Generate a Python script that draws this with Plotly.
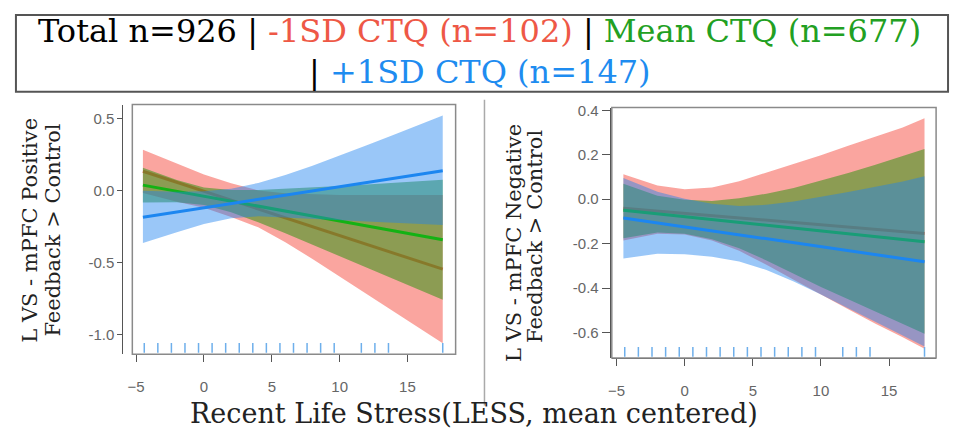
import plotly.graph_objects as go

# ---------------- data ----------------
stress = [-4.5, -2, 0, 2, 4, 6, 8, 10, 12, 14, 16, 17.6]

# Panel 1: L VS - mPFC Positive Feedback > Control
pos_low_fit = [0.133, 0.056, -0.005, -0.067, -0.128, -0.190, -0.252, -0.313, -0.375, -0.437, -0.498, -0.547]
pos_low_lo = [-0.017, -0.078, -0.120, -0.184, -0.256, -0.360, -0.476, -0.595, -0.718, -0.842, -0.964, -1.062]
pos_low_hi = [0.283, 0.190, 0.110, 0.050, 0.000, -0.020, -0.028, -0.031, -0.032, -0.032, -0.032, -0.032]

pos_mean_fit = [0.037, -0.005, -0.040, -0.074, -0.109, -0.143, -0.178, -0.212, -0.247, -0.281, -0.316, -0.343]
pos_mean_lo = [-0.083, -0.082, -0.101, -0.151, -0.221, -0.297, -0.375, -0.455, -0.535, -0.615, -0.696, -0.760]
pos_mean_hi = [0.157, 0.072, 0.021, 0.003, 0.003, 0.011, 0.019, 0.031, 0.041, 0.053, 0.064, 0.074]

pos_high_fit = [-0.186, -0.150, -0.120, -0.091, -0.062, -0.032, -0.003, 0.026, 0.055, 0.085, 0.114, 0.137]
pos_high_lo = [-0.365, -0.290, -0.234, -0.194, -0.180, -0.185, -0.195, -0.205, -0.215, -0.225, -0.235, -0.240]
pos_high_hi = [-0.003, -0.010, -0.006, 0.012, 0.052, 0.108, 0.172, 0.241, 0.313, 0.387, 0.460, 0.521]

# Panel 2: L VS - mPFC Negative Feedback > Control
neg_low_fit = [-0.040, -0.053, -0.063, -0.074, -0.084, -0.094, -0.105, -0.115, -0.125, -0.136, -0.146, -0.154]
neg_low_lo = [-0.185, -0.155, -0.158, -0.185, -0.232, -0.295, -0.362, -0.430, -0.495, -0.560, -0.620, -0.672]
neg_low_hi = [0.112, 0.062, 0.045, 0.053, 0.081, 0.119, 0.157, 0.198, 0.240, 0.281, 0.322, 0.364]

neg_mean_fit = [-0.050, -0.066, -0.079, -0.091, -0.104, -0.117, -0.130, -0.142, -0.155, -0.168, -0.181, -0.191]
neg_mean_lo = [-0.175, -0.150, -0.155, -0.180, -0.220, -0.275, -0.335, -0.395, -0.450, -0.505, -0.560, -0.605]
neg_mean_hi = [0.070, 0.016, -0.002, -0.008, 0.005, 0.025, 0.050, 0.083, 0.118, 0.155, 0.193, 0.226]

neg_high_fit = [-0.084, -0.106, -0.124, -0.142, -0.160, -0.177, -0.195, -0.213, -0.231, -0.249, -0.267, -0.281]
neg_high_lo = [-0.266, -0.245, -0.247, -0.258, -0.280, -0.318, -0.370, -0.428, -0.490, -0.552, -0.612, -0.662]
neg_high_hi = [0.095, 0.034, 0.002, -0.020, -0.030, -0.025, -0.010, 0.010, 0.033, 0.056, 0.080, 0.103]

rug_x = [-4.4, -3.4, -2.4, -1.4, -0.4, 0.6, 1.6, 2.6, 3.6, 4.6, 5.6, 6.6, 7.6, 8.6, 9.6, 11.6, 12.6, 13.6, 17.6]

x_ticks = [-5, 0, 5, 10, 15]
pos_y_ticks = [-1.0, -0.5, 0.0, 0.5]
neg_y_ticks = [-0.6, -0.4, -0.2, 0.0, 0.2, 0.4]

# ---------------- styles ----------------
W, H = 954, 436
RED_LINE, GREEN_LINE, BLUE_LINE = "rgb(240,88,70)", "rgb(20,178,20)", "rgb(28,134,240)"
RED_FILL = "rgba(246,100,90,0.58)"
GREEN_FILL = "rgba(50,150,20,0.55)"
BLUE_FILL = "rgba(30,130,240,0.45)"
TICK_FONT = dict(family="Liberation Sans, Arial, sans-serif", size=15, color="#666")
SERIF = "DejaVu Serif, serif"

fig = go.Figure()

def add_panel(xa, ya, ya_rug, groups):
    for fit, lo, hi, fill, line in groups:
        fig.add_trace(go.Scatter(
            x=stress + stress[::-1], y=hi + lo[::-1], fill="toself",
            fillcolor=fill, line=dict(width=0), mode="lines",
            hoverinfo="skip", showlegend=False, xaxis=xa, yaxis=ya))
        fig.add_trace(go.Scatter(
            x=stress, y=fit, mode="lines", line=dict(color=line, width=3),
            showlegend=False, xaxis=xa, yaxis=ya))
    fig.add_trace(go.Scatter(
        x=rug_x, y=[0.025] * len(rug_x), mode="markers",
        marker=dict(symbol="line-ns", size=7,
                    line=dict(color="rgb(110,175,235)", width=1.5)),
        showlegend=False, hoverinfo="skip", xaxis=xa, yaxis=ya_rug))

add_panel("x", "y", "y3", [
    (pos_low_fit, pos_low_lo, pos_low_hi, RED_FILL, RED_LINE),
    (pos_mean_fit, pos_mean_lo, pos_mean_hi, GREEN_FILL, GREEN_LINE),
    (pos_high_fit, pos_high_lo, pos_high_hi, BLUE_FILL, BLUE_LINE),
])
add_panel("x2", "y2", "y4", [
    (neg_low_fit, neg_low_lo, neg_low_hi, RED_FILL, RED_LINE),
    (neg_mean_fit, neg_mean_lo, neg_mean_hi, GREEN_FILL, GREEN_LINE),
    (neg_high_fit, neg_high_lo, neg_high_hi, BLUE_FILL, BLUE_LINE),
])

xcommon = dict(tickvals=x_ticks, ticks="outside", ticklen=7, tickcolor="#555",
               showline=True, linecolor="#555", linewidth=1.2, showgrid=False,
               zeroline=False, tickfont=TICK_FONT, ticklabelstandoff=12)
ycommon = dict(ticks="outside", tickcolor="#555", showline=True, linecolor="#555",
               linewidth=1.2, showgrid=False, zeroline=False, tickfont=TICK_FONT,
               anchor="free", side="left")

fig.update_layout(
    width=W, height=H, margin=dict(l=0, r=0, t=0, b=0),
    paper_bgcolor="white", plot_bgcolor="white",
    xaxis=dict(domain=[128 / W, 453 / W], range=[-5.28, 18.55], anchor="y", **xcommon),
    yaxis=dict(domain=[1 - 353 / H, 1 - 100 / H], range=[-1.137, 0.596],
               position=118 / W, ticklen=5,
               tickvals=pos_y_ticks, ticktext=[f"{v:.1f}" for v in pos_y_ticks], **ycommon),
    xaxis2=dict(domain=[610 / W, 936 / W], range=[-5.35, 18.45], anchor="y2", **xcommon),
    yaxis2=dict(domain=[1 - 357 / H, 1 - 103 / H], range=[-0.714, 0.412],
                position=608 / W, ticklen=8,
                tickvals=neg_y_ticks, ticktext=[f"{v:.1f}" for v in neg_y_ticks], **ycommon),
    yaxis3=dict(overlaying="y", range=[0, 1], visible=False, anchor="x"),
    yaxis4=dict(overlaying="y2", range=[0, 1], visible=False, anchor="x2"),
)

shapes = [
    dict(type="rect", xref="x domain", yref="y domain", x0=0, x1=1, y0=0, y1=1,
         line=dict(color="#8a8a8a", width=1.5)),
    dict(type="rect", xref="x2 domain", yref="y2 domain", x0=0, x1=1, y0=0, y1=1,
         line=dict(color="#8a8a8a", width=1.5)),
    dict(type="line", xref="paper", yref="paper", x0=482 / W, x1=482 / W,
         y0=1 - 405 / H, y1=1 - 95 / H, line=dict(color="#aaa", width=1.5)),
    dict(type="rect", xref="paper", yref="paper", x0=11 / W, x1=948 / W,
         y0=1 - 87 / H, y1=1 - 9 / H, line=dict(color="#555", width=2)),
]
fig.update_layout(shapes=shapes)

TR, TG, TB = "rgb(238,88,70)", "rgb(34,160,34)", "rgb(30,140,240)"
title1 = (f"Total n=926 | <span style='color:{TR}'>-1SD CTQ (n=102)</span> | "
          f"<span style='color:{TG}'>Mean CTQ (n=677)</span>")
title2 = f"| <span style='color:{TB}'>+1SD CTQ (n=147)</span>"
ann = [
    dict(text=title1, x=0.5, y=1 - 25 / H, xref="paper", yref="paper", showarrow=False,
         font=dict(family=SERIF, size=32, color="black"), xanchor="center", yanchor="middle"),
    dict(text=title2, x=0.5, y=1 - 67 / H, xref="paper", yref="paper", showarrow=False,
         font=dict(family=SERIF, size=32, color="black"), xanchor="center", yanchor="middle"),
    dict(text="Recent Life Stress(LESS, mean centered)", x=471 / W, y=1 - 413 / H,
         xref="paper", yref="paper", showarrow=False,
         font=dict(family=SERIF, size=27, color="#222"), xanchor="center", yanchor="middle"),
]
ytitle_font = dict(family=SERIF, size=21, color="#222")
for txt, xp, yp in [("L VS - mPFC Positive", 25, 227), ("Feedback > Control", 48, 227),
                    ("L VS - mPFC Negative", 511, 240), ("Feedback > Control", 533, 234)]:
    ann.append(dict(text=txt, x=xp / W, y=1 - yp / H, xref="paper", yref="paper",
                    showarrow=False, textangle=-90, font=ytitle_font,
                    xanchor="center", yanchor="middle"))
fig.update_layout(annotations=ann)

fig.write_html("out.html")
